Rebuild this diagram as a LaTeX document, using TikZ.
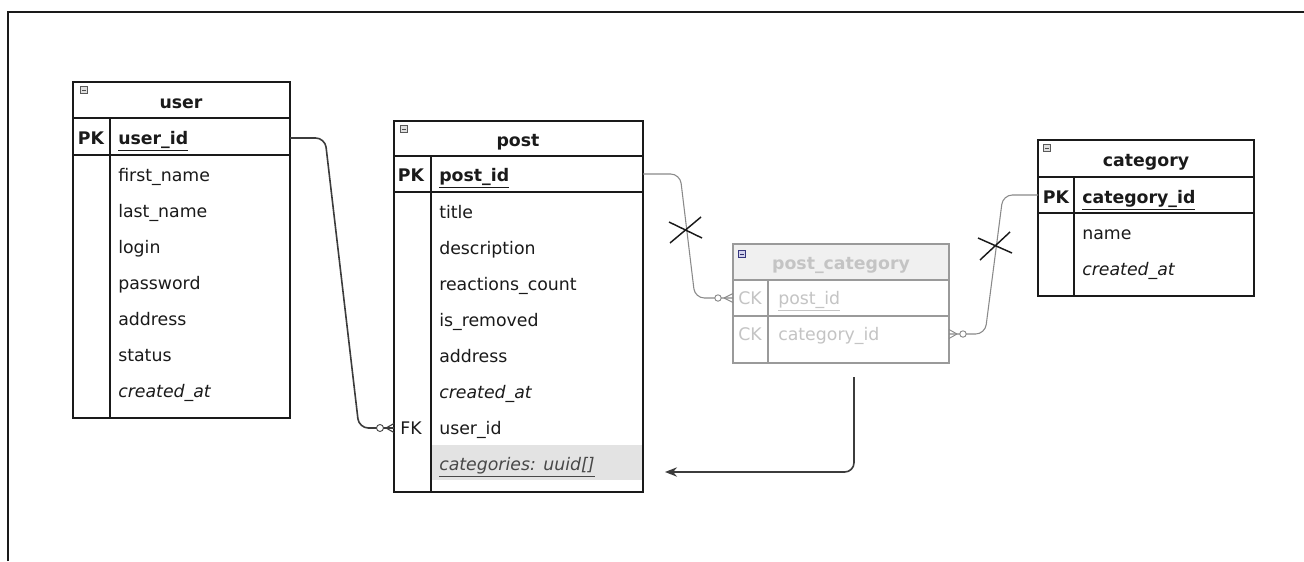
\documentclass[tikz,border=0pt]{standalone}
\usepackage{fontspec}
\setmainfont{DejaVu Sans}
\usetikzlibrary{arrows.meta}

\definecolor{ink}{HTML}{1A1A1A}
\definecolor{faint}{HTML}{C4C4C4}
\definecolor{faintline}{HTML}{9A9A9A}
\definecolor{headfill}{HTML}{F0F0F0}
\definecolor{rowfill}{HTML}{E3E3E3}
\definecolor{linkgray}{HTML}{8A8A8A}

\tikzset{
  tbl/.style={draw=ink, line width=1.5pt},
  weak/.style={draw=faintline, line width=0.9pt},
  txt/.style={anchor=base west, inner sep=0pt, yshift=-4.8pt, text=ink, font=\fontsize{13}{15}\selectfont},
  ttl/.style={anchor=base, inner sep=0pt, yshift=-4.8pt, text=ink, font=\fontsize{13}{15}\selectfont\bfseries},
  keytag/.style={anchor=base, inner sep=0pt, yshift=-4.8pt, text=ink, font=\fontsize{13}{15}\selectfont},
  link/.style={draw=ink!85, line width=1.2pt, rounded corners=7pt},
  thinlink/.style={draw=linkgray, line width=0.8pt, rounded corners=7pt},
  cross/.style={draw=ink, line width=1.1pt},
  ring/.style={draw=ink!80, fill=white, line width=0.7pt},
}

% small collapse icon at the top-left corner of a table header
\newcommand{\foldicon}[3]{%
  \draw[draw=#3!70!black, fill=#3!25, line width=0.4pt] (#1-3.5,#2-3.5) rectangle (#1+3.5,#2+3.5);
  \draw[draw=#3!60!black, line width=0.6pt] (#1-2,#2) -- (#1+2,#2);}

\begin{document}
\begin{tikzpicture}[x=0.75pt, y=-0.75pt]
\useasboundingbox (0,0) rectangle (1304,561);
\fill[white] (0,0) rectangle (1304,561);

% outer frame (top and left edges)
\draw[line width=1.4pt, draw=ink] (8,561) -- (8,12) -- (1304,12);

% ---------------- user ----------------
\draw[tbl] (73,82) rectangle (290,418);
\draw[tbl] (73,118) -- (290,118);
\draw[tbl] (73,155) -- (290,155);
\draw[tbl] (110,118) -- (110,418);
\foldicon{84}{90}{gray}
\node[ttl] (user-title) at (181,102) {user};
\node[keytag, font=\fontsize{13}{15}\selectfont\bfseries] (user-pk) at (91,138) {PK};
\node[txt, font=\fontsize{13}{15}\selectfont\bfseries] (user-id) at (118,138) {\underline{user\_id}};
\node[txt] (user-f1) at (118,175) {first\_name};
\node[txt] (user-f2) at (118,211) {last\_name};
\node[txt] (user-f3) at (118,247) {login};
\node[txt] (user-f4) at (118,283) {password};
\node[txt] (user-f5) at (118,319) {address};
\node[txt] (user-f6) at (118,355) {status};
\node[txt, font=\fontsize{13}{15}\selectfont\itshape] (user-f7) at (118,391) {created\_at};
\coordinate (user-out) at (290,138);

% ---------------- post ----------------
\fill[rowfill] (432,445) rectangle (642,480);
\draw[tbl] (394,121) rectangle (643,492);
\draw[tbl] (394,156) -- (643,156);
\draw[tbl] (394,192) -- (643,192);
\draw[tbl] (431,156) -- (431,492);
\foldicon{404}{129}{gray}
\node[ttl] (post-title) at (518,140) {post};
\node[keytag, font=\fontsize{13}{15}\selectfont\bfseries] (post-pk) at (411,175) {PK};
\node[txt, font=\fontsize{13}{15}\selectfont\bfseries] (post-id) at (439,175) {\underline{post\_id}};
\node[txt] (post-f1) at (439,212) {title};
\node[txt] (post-f2) at (439,248) {description};
\node[txt] (post-f3) at (439,284) {reactions\_count};
\node[txt] (post-f4) at (439,320) {is\_removed};
\node[txt] (post-f5) at (439,356) {address};
\node[txt, font=\fontsize{13}{15}\selectfont\itshape] (post-f6) at (439,392) {created\_at};
\node[keytag] (post-fk) at (411,428) {FK};
\node[txt] (post-f7) at (439,428) {user\_id};
\node[txt, text=ink!80, font=\fontsize{13}{15}\selectfont\itshape] (post-f8) at (439,464) {\underline{categories: uuid[]}};
\coordinate (post-in) at (394,428);
\coordinate (post-out) at (643,174);
\coordinate (post-back) at (665,472);

% ---------------- category ----------------
\draw[tbl] (1038,140) rectangle (1254,296);
\draw[tbl] (1038,177) -- (1254,177);
\draw[tbl] (1038,213) -- (1254,213);
\draw[tbl] (1074,177) -- (1074,296);
\foldicon{1047}{148}{gray}
\node[ttl] (cat-title) at (1146,160) {category};
\node[keytag, font=\fontsize{13}{15}\selectfont\bfseries] (cat-pk) at (1056,197) {PK};
\node[txt, font=\fontsize{13}{15}\selectfont\bfseries] (cat-id) at (1082,197) {\underline{category\_id}};
\node[txt] (cat-f1) at (1082,233) {name};
\node[txt, font=\fontsize{13}{15}\selectfont\itshape] (cat-f2) at (1082,269) {created\_at};
\coordinate (cat-out) at (1038,195);

% ---------------- post_category ----------------
\fill[headfill] (733,244) rectangle (949,280);
\draw[weak] (733,244) rectangle (949,363);
\draw[weak] (733,280) -- (949,280);
\draw[weak] (733,316) -- (949,316);
\draw[weak] (768,280) -- (768,363);
\foldicon{742}{254}{blue!40!gray}
\node[ttl, text=faint] (pc-title) at (841,263) {post\_category};
\node[keytag, text=faint] (pc-ck1) at (750,298) {CK};
\node[txt, text=faint] (pc-f1) at (778,298) {\underline{post\_id}};
\node[keytag, text=faint] (pc-ck2) at (750,334) {CK};
\node[txt, text=faint] (pc-f2) at (778,334) {category\_id};
\coordinate (pc-in1) at (733,298);
\coordinate (pc-in2) at (949,334);
\coordinate (pc-down) at (854,377);

% ---------------- relations ----------------
% user.user_id -> post.user_id (zero or many)
\draw[link] (user-out) -- (325,138) -- (359,428) -- (post-in);
\draw[draw=ink!85, line width=0.8pt] (386,428) -- (394,423.5) (386,428) -- (394,432.5);
\draw[ring] (380,428) circle (3.5);

% post.post_id -> post_category.post_id
\draw[thinlink] (post-out) -- (680,174) -- (695,298) -- (pc-in1);
\draw[draw=linkgray, line width=0.7pt] (724,298) -- (733,293.5) (724,298) -- (733,302.5);
\draw[ring, draw=linkgray] (718,298) circle (3.2);
\draw[cross] (670,243) -- (701,217) (669,222) -- (702,238);

% category.category_id -> post_category.category_id
\draw[thinlink] (cat-out) -- (1003,195) -- (985,334) -- (pc-in2);
\draw[draw=linkgray, line width=0.7pt] (957,334) -- (949,329.5) (957,334) -- (949,338.5);
\draw[ring, draw=linkgray] (963,334) circle (3.2);
\draw[cross] (980,260) -- (1010,232) (978,238) -- (1012,253);

% post_category -> post.categories
\draw[link, -{Stealth[length=9pt,width=7pt]}] (pc-down) -- (854,472) -- (post-back);
\end{tikzpicture}
\end{document}
